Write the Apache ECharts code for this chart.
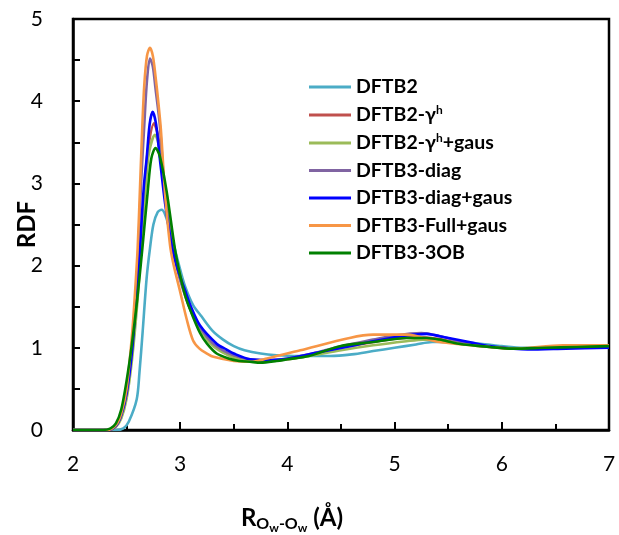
<!DOCTYPE html>
<html>
<head>
<meta charset="utf-8">
<script src="https://cdn.jsdelivr.net/npm/echarts@6/dist/echarts.min.js"></script>
<style>
  html, body { margin: 0; padding: 0; background: #fff; }
  #chart { width: 619px; height: 535px; }
</style>
</head>
<body>
<div id="chart"></div>
<script>
// Radial distribution functions g(R) for O(water)-O(water), pairs of [R (Å), g]
const dftb2 = [[2.0,0],[2.40,0],[2.47,0.02],[2.52,0.1],[2.594,0.37],[2.62,0.7],[2.65,1.2],[2.687,1.85],[2.718,2.21],[2.75,2.5],[2.79,2.65],[2.827,2.68],[2.86,2.62],[2.90,2.45],[2.95,2.2],[3.0,1.95],[3.045,1.75],[3.12,1.52],[3.2,1.38],[3.3,1.21],[3.4,1.1],[3.5,1.02],[3.6,0.97],[3.75,0.93],[3.9,0.91],[4.1,0.9],[4.4,0.9],[4.6,0.92],[4.8,0.96],[5.0,1.0],[5.2,1.04],[5.35,1.07],[5.55,1.07],[5.8,1.05],[6.0,1.02],[6.2,1.0],[6.5,1.0],[6.8,1.01],[7.0,1.02]];
const dftb2Gh = [[2.0,0],[2.33,0],[2.40,0.05],[2.45,0.17],[2.50,0.43],[2.55,0.92],[2.60,1.65],[2.635,2.3],[2.67,3.0],[2.70,3.42],[2.755,3.73],[2.79,3.6],[2.83,3.2],[2.88,2.65],[2.94,2.15],[3.0,1.85],[3.1,1.45],[3.2,1.2],[3.3,1.04],[3.4,0.95],[3.5,0.89],[3.65,0.85],[3.8,0.84],[4.0,0.86],[4.2,0.91],[4.5,1.0],[4.8,1.07],[5.0,1.11],[5.2,1.13],[5.4,1.11],[5.6,1.06],[5.9,1.01],[6.2,0.99],[6.6,1.0],[7.0,1.01]];
const dftb2GhGaus = [[2.0,0],[2.34,0],[2.40,0.04],[2.45,0.14],[2.50,0.38],[2.55,0.85],[2.60,1.55],[2.64,2.3],[2.68,3.0],[2.71,3.38],[2.765,3.59],[2.80,3.47],[2.84,3.12],[2.89,2.6],[2.95,2.15],[3.0,1.88],[3.1,1.45],[3.2,1.19],[3.3,1.03],[3.4,0.94],[3.5,0.88],[3.65,0.84],[3.8,0.84],[4.0,0.86],[4.2,0.9],[4.5,0.97],[4.8,1.03],[5.11,1.08],[5.27,1.10],[5.42,1.09],[5.6,1.05],[5.9,1.01],[6.2,0.99],[6.6,1.0],[7.0,1.01]];
const dftb3Diag = [[2.0,0],[2.32,0],[2.40,0.05],[2.45,0.18],[2.50,0.45],[2.55,0.98],[2.60,1.95],[2.635,3.0],[2.665,3.71],[2.69,4.25],[2.718,4.52],[2.745,4.42],[2.77,4.15],[2.81,3.71],[2.85,3.0],[2.90,2.45],[2.95,2.1],[3.0,1.82],[3.1,1.45],[3.2,1.22],[3.3,1.06],[3.4,0.97],[3.5,0.91],[3.65,0.86],[3.8,0.85],[4.0,0.87],[4.2,0.92],[4.5,1.02],[4.8,1.1],[5.0,1.15],[5.25,1.18],[5.4,1.15],[5.6,1.08],[5.9,1.01],[6.2,0.99],[6.6,1.0],[7.0,1.01]];
const dftb3DiagGaus = [[2.0,0],[2.32,0],[2.40,0.05],[2.45,0.18],[2.50,0.45],[2.55,0.95],[2.60,1.75],[2.625,2.21],[2.66,2.95],[2.687,3.3],[2.715,3.72],[2.743,3.87],[2.775,3.72],[2.81,3.3],[2.86,2.75],[2.926,2.21],[2.97,1.98],[3.045,1.70],[3.1,1.5],[3.185,1.27],[3.34,1.05],[3.43,0.98],[3.5,0.93],[3.65,0.86],[3.8,0.85],[3.96,0.86],[4.27,0.94],[4.58,1.02],[4.8,1.08],[5.11,1.15],[5.3,1.17],[5.42,1.14],[5.73,1.06],[5.89,1.02],[6.24,0.98],[6.6,0.99],[7.0,1.0]];
const dftb3FullGaus = [[2.0,0],[2.32,0],[2.40,0.06],[2.45,0.2],[2.50,0.5],[2.55,1.15],[2.575,1.6],[2.603,2.21],[2.625,2.95],[2.647,3.71],[2.665,4.2],[2.69,4.55],[2.718,4.65],[2.745,4.55],[2.77,4.3],[2.795,4.0],[2.82,3.65],[2.86,2.85],[2.905,2.25],[2.935,2.03],[3.0,1.68],[3.06,1.35],[3.12,1.09],[3.18,0.99],[3.25,0.93],[3.31,0.89],[3.5,0.84],[3.65,0.83],[3.81,0.87],[4.12,0.97],[4.58,1.12],[4.8,1.16],[5.11,1.16],[5.42,1.07],[5.89,1.01],[6.1,0.99],[6.57,1.03],[7.0,1.03]];
const dftb3Ob = [[2.0,0],[2.28,0],[2.35,0.02],[2.40,0.08],[2.45,0.25],[2.50,0.6],[2.55,1.05],[2.60,1.6],[2.647,2.21],[2.697,2.9],[2.73,3.3],[2.77,3.43],[2.81,3.33],[2.874,2.9],[2.95,2.21],[3.0,1.88],[3.05,1.62],[3.1,1.44],[3.185,1.18],[3.25,1.05],[3.34,0.93],[3.45,0.87],[3.55,0.84],[3.65,0.83],[3.75,0.82],[3.9,0.84],[4.0,0.86],[4.2,0.9],[4.49,1.02],[4.8,1.07],[5.11,1.12],[5.3,1.12],[5.42,1.10],[5.6,1.05],[5.89,1.01],[6.1,0.99],[6.4,1.0],[6.7,1.01],[7.0,1.02]];

const seriesNames = ['DFTB2', 'DFTB2-γh', 'DFTB2-γh+gaus', 'DFTB3-diag', 'DFTB3-diag+gaus', 'DFTB3-Full+gaus', 'DFTB3-3OB'];
const seriesData = [dftb2, dftb2Gh, dftb2GhGaus, dftb3Diag, dftb3DiagGaus, dftb3FullGaus, dftb3Ob];
const seriesColors = ['#4bacc6', '#c0504d', '#9bbb59', '#8064a2', '#0000ff', '#f79646', '#008000'];

const FONT = 'Lato, "Liberation Sans", sans-serif';

const chart = echarts.init(document.getElementById('chart'), null, { renderer: 'canvas' });

chart.setOption({
  animation: false,
  backgroundColor: '#ffffff',
  grid: {
    left: 73, right: 10, top: 19, bottom: 105,
    outerBoundsMode: 'none',
    containLabel: false,
    show: true, borderColor: '#000', borderWidth: 2.5, backgroundColor: 'transparent'
  },
  legend: {
    orient: 'vertical',
    left: 304, top: 72,
    itemWidth: 42, itemHeight: 3,
    itemGap: 7.5,
    icon: 'rect',
    data: seriesNames,
    formatter: name => name.replace('γh', 'γ{sup|h}'),
    textStyle: {
      fontFamily: FONT, fontWeight: 'bold', fontSize: 19.5, color: '#000', lineHeight: 20,
      rich: {
        sup: { fontFamily: FONT, fontWeight: 'bold', fontSize: 12, color: '#000', padding: [0, 0, 9, 0] }
      }
    }
  },
  xAxis: {
    type: 'value', min: 2, max: 7, interval: 1,
    name: '{r|R}{o|O}{w|w}{o|-O}{w|w}{r| (Å)}',
    nameLocation: 'middle', nameGap: 72,
    nameMoveOverlap: false,
    nameTextStyle: {
      padding: [0, 98, 0, 0],
      rich: {
        r: { fontFamily: FONT, fontWeight: 'bold', fontSize: 24, color: '#000' },
        o: { fontFamily: FONT, fontWeight: 'bold', fontSize: 16, color: '#000', padding: [12, 0, 0, 0] },
        w: { fontFamily: FONT, fontWeight: 'bold', fontSize: 12, color: '#000', padding: [20, 0, 0, 0] }
      }
    },
    axisLine: { lineStyle: { color: '#000', width: 2.5 } },
    axisTick: { inside: true, length: 8, lineStyle: { color: '#000', width: 2 } },
    minorTick: { show: true, splitNumber: 2, length: 6, lineStyle: { color: '#000', width: 2 } },
    splitLine: { show: false },
    axisLabel: { margin: 24, fontFamily: FONT, fontSize: 21, color: '#000' }
  },
  yAxis: {
    type: 'value', min: 0, max: 5, interval: 1,
    name: 'RDF', nameLocation: 'middle', nameGap: 34, nameRotate: 90,
    nameMoveOverlap: false,
    nameTextStyle: { fontFamily: FONT, fontWeight: 'bold', fontSize: 24, color: '#000' },
    axisLine: { lineStyle: { color: '#000', width: 2.5 } },
    axisTick: { inside: true, length: 7, lineStyle: { color: '#000', width: 2 } },
    minorTick: { show: true, splitNumber: 2, length: 7, lineStyle: { color: '#000', width: 2 } },
    splitLine: { show: false },
    axisLabel: { margin: 30, fontFamily: FONT, fontSize: 21, color: '#000' }
  },
  series: seriesNames.map((name, i) => ({
    name,
    type: 'line',
    data: seriesData[i],
    smooth: 0.3,
    showSymbol: false,
    symbol: 'none',
    color: seriesColors[i],
    lineStyle: { color: seriesColors[i], width: 2.6 }
  }))
});
</script>
</body>
</html>
